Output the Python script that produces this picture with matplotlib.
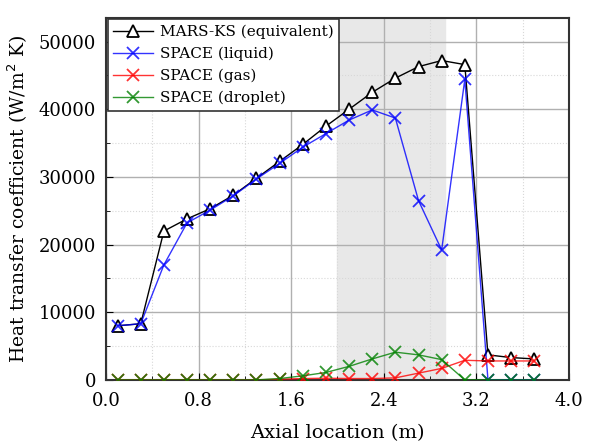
import numpy as np
import matplotlib.pyplot as plt
from matplotlib.ticker import MultipleLocator

# axial positions (m)
x = [0.1, 0.3, 0.5, 0.7, 0.9, 1.1, 1.3, 1.5, 1.7, 1.9,
     2.1, 2.3, 2.5, 2.7, 2.9, 3.1, 3.3, 3.5, 3.7]

mars_ks = [8000, 8300, 22000, 23800, 25300, 27300, 29800, 32300, 34800, 37500,
           40000, 42500, 44600, 46300, 47200, 46600, 3700, 3300, 3100]
space_liquid = [8000, 8300, 17000, 23200, 25100, 27200, 29700, 32000, 34400, 36400,
                38400, 39900, 38700, 26500, 19200, 44400, 0, 0, 0]
space_gas = [0, 0, 0, 0, 0, 0, 0, 100, 200, 250,
             200, 200, 300, 1000, 1700, 2900, 2800, 2800, 2800]
space_droplet = [0, 0, 0, 0, 0, 0, 0, 200, 600, 1100,
                 2000, 3100, 4100, 3700, 3000, 0, 0, 0, 0]

shade_lo, shade_hi = 2.0, 2.93

plt.rcParams['font.family'] = ['DejaVu Serif']
fig = plt.figure(figsize=(5.89, 4.48), dpi=100)
ax = fig.add_axes([0.18, 0.152, 0.786, 0.808])

ax.axvspan(shade_lo, shade_hi, color='#e8e8e8', zorder=0)

ax.plot(x, mars_ks, color='black', marker='^', mfc='white', mec='black',
        ms=8, mew=1.3, lw=1, label='MARS-KS (equivalent)', zorder=3)
ax.plot(x, space_liquid, color='blue', marker='x', ms=9, mew=1.3, lw=1,
        alpha=0.8, label='SPACE (liquid)', zorder=4)
ax.plot(x, space_gas, color='red', marker='x', ms=9, mew=1.3, lw=1,
        alpha=0.8, label='SPACE (gas)', zorder=4)
ax.plot(x, space_droplet, color='green', marker='x', ms=9, mew=1.3, lw=1,
        alpha=0.8, label='SPACE (droplet)', zorder=5)

ax.set_xlim(0, 4.0)
ax.set_ylim(0, 53500)
ax.xaxis.set_major_locator(MultipleLocator(0.8))
ax.xaxis.set_minor_locator(MultipleLocator(0.4))
ax.yaxis.set_major_locator(MultipleLocator(10000))
ax.yaxis.set_minor_locator(MultipleLocator(5000))
ax.xaxis.set_major_formatter(plt.FormatStrFormatter('%.1f'))

ax.grid(which='major', color='#b0b0b0', lw=1)
ax.grid(which='minor', color='#d8d8d8', lw=0.8, ls=':')
ax.set_axisbelow(True)
ax.tick_params(which='both', direction='in', labelsize=13)
ax.tick_params(axis='x', which='major', length=5, pad=9)
ax.tick_params(axis='y', which='major', length=5, pad=7)
ax.tick_params(which='minor', length=3)
for s in ax.spines.values():
    s.set_linewidth(1.5)
    s.set_color('#333333')

ax.set_xlabel('Axial location (m)', fontsize=14, labelpad=10)
ax.set_ylabel('Heat transfer coefficient (W/m$^2$ K)', fontsize=13.5, labelpad=6)

leg = ax.legend(loc='upper left', fontsize=11, handlelength=2.6, fancybox=False,
                framealpha=1, edgecolor='#333333', borderaxespad=0.1,
                labelspacing=0.5, handletextpad=0.5, borderpad=0.35)
leg.get_frame().set_linewidth(1.2)

plt.savefig('out.png', dpi=100)
